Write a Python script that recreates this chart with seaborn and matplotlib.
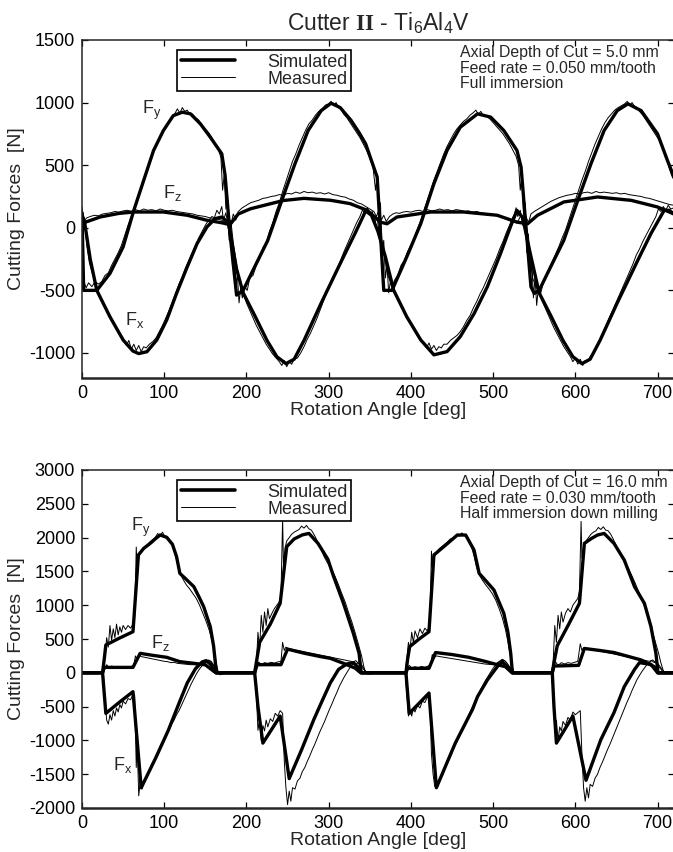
import numpy as np
import pandas as pd
import matplotlib
matplotlib.use('Agg')
import matplotlib.pyplot as plt
import seaborn as sns
from matplotlib.lines import Line2D

# ---------------- data (angle [deg], force [N]) ----------------
# top panel: full immersion, 5.0 mm depth
top_fy_sim = [(0, 120), (2, -500), (18, -500), (34, -365), (50, -153), (63, 139), (75, 378),
              (87, 617), (99, 777), (111, 896), (122, 923), (132, 910), (144, 830), (156, 724),
              (170, 591), (174, 420), (180, -46), (188, -538), (196, -500), (210, -312),
              (226, -100), (243, 219), (259, 511), (275, 777), (291, 936), (303, 995),
              (314, 960), (327, 860), (337, 760), (345, 670), (359, 405), (367, -500),
              (377, -500), (395, -232), (412, 33), (428, 352), (444, 618), (460, 803),
              (481, 910), (497, 884), (513, 777), (529, 618), (534, 485), (546, -471),
              (550, -524), (556, -500), (570, -312), (586, -100), (603, 219), (619, 511),
              (635, 777), (651, 936), (664, 990), (680, 936), (700, 750), (712, 538), (720, 405)]
top_fx_sim = [(0, 100), (3, 50), (10, -250), (18, -500), (34, -711), (50, -896), (62, -985),
              (69, -1005), (79, -990), (91, -896), (103, -737), (115, -524), (128, -312),
              (140, -126), (152, 7), (162, 73), (170, 86), (178, 40), (188, -330), (196, -520),
              (210, -700), (225, -900), (237, -1030), (248, -1085), (258, -1050), (270, -900),
              (291, -600), (316, -259), (332, -46), (345, 135), (352, 100), (360, -30),
              (369, -232), (379, -498), (395, -711), (412, -896), (428, -1015), (444, -989),
              (460, -870), (477, -684), (493, -471), (509, -206), (521, 7), (529, 139),
              (536, 80), (545, -200), (556, -520), (570, -700), (585, -900), (597, -1030),
              (608, -1085), (618, -1050), (630, -900), (651, -600), (676, -259), (692, -46),
              (708, 139), (714, 140), (720, 110)]
top_fz_sim = [(0, 35), (22, 86), (45, 115), (63, 126), (99, 126), (128, 100), (152, 60),
              (170, 40), (180, 25), (190, 110), (205, 152), (245, 218), (270, 235), (302, 220),
              (326, 193), (347, 139), (363, 45), (371, 32), (383, 86), (424, 126), (464, 126),
              (505, 100), (529, 45), (542, 32), (554, 100), (586, 206), (627, 246), (668, 219),
              (700, 166), (720, 110)]

top_fy_meas = [(0, 170), (2, -420), (5, -480), (8, -440), (12, -470), (16, -430), (20, -450),
               (24, -430), (28, -380), (32, -360), (36, -300), (40, -250), (44, -200),
               (48, -140), (52, -60), (56, 20), (60, 90), (64, 170), (68, 250), (72, 330),
               (76, 410), (80, 480), (84, 560), (88, 630), (92, 690), (96, 740), (100, 790),
               (104, 830), (108, 870), (112, 900), (116, 950), (119, 915), (122, 960),
               (125, 930), (128, 940), (131, 905), (134, 910), (138, 880), (142, 860),
               (146, 820), (150, 790), (154, 760), (158, 720), (162, 670), (166, 620),
               (169, 560), (171, 300), (173, 420), (175, 150), (177, 250), (179, -100),
               (181, 50), (183, -300), (185, -200), (187, -450), (189, -380), (191, -600),
               (193, -480), (195, -560), (198, -470), (201, -500), (204, -400), (208, -380),
               (212, -300), (216, -250), (220, -160), (224, -120), (228, -30), (232, 40),
               (236, 130), (240, 200), (244, 290), (248, 370), (252, 450), (256, 530),
               (260, 590), (264, 660), (268, 720), (272, 780), (276, 830), (280, 860),
               (284, 900), (288, 930), (292, 950), (296, 980), (300, 990), (303, 1010),
               (306, 975), (309, 1000), (312, 960), (315, 950), (318, 910), (322, 880),
               (326, 840), (330, 800), (334, 760), (338, 720), (342, 670), (346, 620),
               (350, 560), (354, 480), (357, 300), (359, 420), (361, 100), (363, 200),
               (365, -200), (367, -100), (369, -400), (371, -300), (373, -520), (375, -430),
               (377, -480), (380, -420), (384, -380), (388, -300), (392, -260), (396, -190),
               (400, -140), (404, -80), (408, -10), (412, 60), (416, 140), (420, 220),
               (424, 300), (428, 380), (432, 450), (436, 520), (440, 590), (444, 650),
               (448, 700), (452, 750), (456, 790), (460, 820), (464, 850), (468, 870),
               (472, 900), (476, 920), (479, 940), (482, 905), (485, 930), (488, 900),
               (492, 890), (496, 870), (500, 840), (504, 810), (508, 780), (512, 750),
               (516, 710), (520, 670), (524, 620), (528, 570), (531, 500), (533, 300),
               (535, 420), (537, 100), (539, 200), (541, -200), (543, -50), (545, -400),
               (547, -250), (549, -560), (551, -400), (553, -620), (555, -480), (558, -520),
               (561, -440), (564, -400), (568, -330), (572, -270), (576, -210), (580, -150),
               (584, -80), (588, -20), (592, 60), (596, 140), (600, 220), (604, 300),
               (608, 380), (612, 450), (616, 530), (620, 600), (624, 670), (628, 730),
               (632, 790), (636, 840), (640, 880), (644, 910), (648, 940), (652, 960),
               (656, 975), (660, 990), (663, 1010), (666, 980), (669, 1000), (672, 970),
               (675, 960), (678, 930), (682, 900), (686, 860), (690, 820), (694, 780),
               (698, 740), (702, 700), (706, 640), (710, 580), (714, 480), (717, 420),
               (720, 380)]
top_fx_meas = [(0, 140), (3, 60), (6, -150), (9, -280), (12, -350), (15, -420), (18, -470),
               (22, -560), (26, -600), (30, -660), (34, -700), (38, -760), (42, -800),
               (46, -850), (50, -880), (54, -940), (57, -900), (60, -970), (63, -930),
               (66, -980), (69, -940), (72, -990), (75, -950), (78, -960), (82, -930),
               (86, -910), (90, -880), (94, -830), (98, -780), (102, -720), (106, -660),
               (110, -590), (114, -520), (118, -450), (122, -390), (126, -320), (130, -260),
               (134, -200), (138, -140), (142, -80), (146, -30), (150, 20), (154, 60),
               (158, 90), (161, 80), (164, 140), (167, 110), (170, 170), (172, 60),
               (175, 120), (178, 0), (181, 60), (184, -120), (187, -250), (190, -380),
               (193, -450), (196, -520), (200, -600), (204, -660), (208, -720), (212, -780),
               (216, -830), (220, -880), (224, -930), (228, -970), (232, -1010), (236, -1040),
               (240, -1070), (243, -1100), (246, -1060), (249, -1110), (252, -1070),
               (255, -1090), (258, -1050), (262, -1040), (266, -1000), (270, -950),
               (274, -890), (278, -840), (282, -780), (286, -720), (290, -650), (294, -580),
               (298, -510), (302, -450), (306, -390), (310, -330), (314, -270), (318, -200),
               (322, -140), (326, -80), (330, -20), (334, 40), (338, 90), (341, 140),
               (344, 120), (347, 160), (350, 110), (353, 130), (356, 40), (359, 80),
               (362, -80), (365, -160), (368, -230), (372, -380), (376, -450), (380, -500),
               (384, -560), (388, -610), (392, -660), (396, -720), (400, -770), (404, -820),
               (408, -860), (412, -900), (416, -930), (419, -960), (422, -920), (425, -970),
               (428, -940), (431, -980), (434, -950), (437, -960), (440, -930), (444, -930),
               (448, -900), (452, -880), (456, -860), (460, -830), (464, -790), (468, -740),
               (472, -700), (476, -640), (480, -590), (484, -530), (488, -480), (492, -420),
               (496, -360), (500, -300), (504, -240), (508, -170), (512, -110), (516, -40),
               (520, 20), (523, 70), (526, 110), (528, 160), (530, 90), (533, 140),
               (536, 20), (539, 60), (542, -120), (545, -260), (548, -400), (551, -450),
               (554, -500), (558, -560), (562, -620), (566, -680), (570, -740), (574, -800),
               (578, -850), (582, -900), (586, -950), (590, -990), (594, -1030), (597, -1070),
               (600, -1040), (603, -1090), (606, -1050), (609, -1100), (612, -1060),
               (615, -1070), (618, -1030), (622, -1000), (626, -950), (630, -890),
               (634, -830), (638, -770), (642, -710), (646, -650), (650, -590), (654, -530),
               (658, -470), (662, -410), (666, -350), (670, -290), (674, -220), (678, -170),
               (682, -110), (686, -60), (690, -10), (694, 40), (698, 90), (701, 150),
               (704, 130), (707, 170), (710, 140), (713, 180), (716, 150), (720, 160)]
top_fz_meas = [(0, 150), (3, 60), (6, 80), (10, 90), (15, 100), (20, 95), (25, 110), (30, 115),
               (35, 120), (40, 130), (45, 125), (50, 135), (55, 140), (60, 130), (65, 145),
               (70, 135), (75, 150), (80, 140), (85, 145), (90, 135), (95, 150), (100, 140),
               (105, 135), (110, 140), (115, 130), (120, 125), (125, 120), (130, 115),
               (135, 110), (140, 100), (145, 95), (150, 90), (155, 80), (160, 75), (165, 70),
               (170, 60), (175, 40), (178, 90), (181, 20), (184, 110), (187, 60), (190, 130),
               (195, 160), (200, 180), (205, 200), (210, 210), (215, 220), (220, 235),
               (225, 240), (230, 250), (235, 255), (240, 265), (245, 260), (250, 275),
               (255, 270), (260, 285), (265, 275), (270, 290), (275, 280), (280, 285),
               (285, 275), (290, 280), (295, 270), (300, 280), (305, 265), (310, 260),
               (315, 250), (320, 245), (325, 230), (330, 220), (335, 200), (340, 190),
               (345, 170), (350, 150), (355, 130), (358, 90), (361, 140), (364, 60),
               (367, 100), (370, 50), (374, 90), (378, 110), (382, 120), (386, 115),
               (390, 125), (395, 130), (400, 125), (405, 135), (410, 140), (415, 130),
               (420, 145), (425, 135), (430, 140), (435, 150), (440, 140), (445, 145),
               (450, 135), (455, 145), (460, 140), (465, 130), (470, 135), (475, 125),
               (480, 130), (485, 120), (490, 115), (495, 110), (500, 105), (505, 95),
               (510, 90), (515, 80), (520, 70), (525, 60), (530, 50), (534, 100), (537, 30),
               (540, 90), (543, 40), (546, 110), (550, 130), (555, 150), (560, 170),
               (565, 190), (570, 210), (575, 225), (580, 240), (585, 250), (590, 260),
               (595, 265), (600, 275), (605, 270), (610, 280), (615, 285), (620, 275),
               (625, 290), (630, 280), (635, 285), (640, 280), (645, 275), (650, 280),
               (655, 270), (660, 275), (665, 265), (670, 260), (675, 255), (680, 250),
               (685, 240), (690, 235), (695, 225), (700, 215), (705, 205), (710, 195),
               (715, 185), (720, 180)]

# bottom panel: half immersion down milling, 16.0 mm depth
bot_fy_sim = [(0, 0), (25, 0), (27, 200), (29, 411), (45, 510), (62, 608), (68.6, 1743),
              (75, 1840), (83, 1915), (90, 1990), (95, 2038), (103, 2005), (110, 1900),
              (115, 1718), (119, 1471), (127, 1380), (136, 1274), (142, 1130), (148, 978),
              (156, 682), (160, 400), (163.5, 0), (210, 0), (212, 150), (216, 450),
              (229, 720), (241, 1028), (249, 1866), (258, 1980), (268, 2040), (276, 2062),
              (287, 1915), (299, 1680), (306, 1425), (318, 1028), (330, 584), (337, 288),
              (339.5, 0), (394, 0), (396, 200), (398.5, 386), (410, 500), (422, 608),
              (428, 1743), (440, 1866), (456.5, 2038), (466.6, 2038), (476.8, 1816),
              (483, 1471), (492, 1350), (501, 1225), (513, 880), (518, 600), (521.4, 288),
              (523.5, 0), (572, 0), (574, 150), (578, 400), (592, 720), (605, 1028),
              (611, 1915), (620, 1990), (627, 2038), (635, 2062), (647, 1915), (659.5, 1668),
              (672, 1274), (684, 1028), (692, 682), (698, 288), (700.5, 0), (720, 0)]
bot_fx_sim = [(0, 0), (25, 0), (29, -600), (45, -440), (62, -279), (72, -1700), (90, -1250),
              (105, -850), (118, -450), (128, -150), (138, 60), (146, 160), (151, 180),
              (156, 130), (163, 0), (210, 0), (214, -500), (220, -1040), (241, -640),
              (252, -1565), (267, -1140), (282, -690), (293, -390), (302, -150), (312, 50),
              (322, 130), (330, 150), (336, 80), (340, 0), (394, 0), (398, -600), (422, -300),
              (431, -1700), (454, -1040), (475, -540), (481, -353), (493, -106), (505, 90),
              (511, 165), (517, 90), (523.5, 0), (572, 0), (574, -500), (577, -1040),
              (597, -640), (613, -1590), (631, -990), (647, -590), (659.5, -205), (672, 49),
              (678, 150), (692, 125), (700, 0), (720, 0)]
bot_fz_sim = [(0, 0), (25, 0), (27, 80), (62, 80), (70.7, 288), (85, 260), (103, 229),
              (119, 165), (135.6, 141), (150, 118), (160, 25), (163, 0), (210, 0), (213, 120),
              (242, 120), (250, 350), (270, 290), (290, 240), (302, 214), (318, 140),
              (332, 70), (339, 0), (394, 0), (396, 66), (422, 66), (430, 300), (450, 270),
              (470, 230), (490, 170), (505, 120), (515, 90), (523, 0), (572, 0), (574, 100),
              (604, 110), (611, 360), (630, 330), (647, 300), (665, 240), (680, 190),
              (696, 90), (701, 0), (720, 0)]

bot_fy_meas = [(0, 0), (10, 10), (20, -10), (26, 0), (28, 250), (30, 520), (32, 380), (34, 700),
               (36, 480), (38, 650), (40, 520), (42, 720), (44, 560), (46, 680), (48, 600),
               (50, 700), (53, 640), (56, 700), (59, 660), (62, 720), (64, 800), (66, 1860),
               (67, 1500), (69, 1700), (71, 1780), (74, 1820), (77, 1870), (80, 1900),
               (83, 1940), (86, 1970), (89, 2000), (92, 2060), (95, 2030), (98, 2080),
               (101, 2000), (104, 1990), (107, 1950), (110, 1880), (113, 1780), (116, 1620),
               (119, 1480), (123, 1380), (127, 1300), (131, 1240), (135, 1170), (139, 1100),
               (143, 1000), (147, 880), (151, 760), (155, 620), (158, 480), (161, 300),
               (164, 100), (166, 0), (168, -30), (172, 10), (180, -10), (190, 0), (210, 0),
               (212, 100), (214, 600), (216, 350), (218, 850), (220, 600), (222, 900),
               (224, 700), (226, 950), (228, 800), (231, 880), (234, 950), (237, 1000),
               (240, 1050), (242, 1150), (244, 2290), (245, 1600), (247, 1850), (249, 1950),
               (252, 2000), (255, 2050), (258, 2080), (261, 2100), (264, 2120), (267, 2170),
               (270, 2140), (273, 2180), (276, 2130), (279, 2110), (282, 2050), (285, 1980),
               (288, 1900), (291, 1820), (294, 1730), (297, 1660), (300, 1600), (304, 1520),
               (308, 1420), (312, 1300), (316, 1170), (320, 1050), (324, 900), (328, 760),
               (332, 600), (336, 430), (340, 250), (343, 80), (345, 0), (348, -20), (352, 10),
               (360, 0), (393, 0), (395, 200), (397, 450), (399, 350), (401, 600), (403, 450),
               (405, 620), (408, 520), (411, 650), (414, 580), (417, 660), (420, 620),
               (423, 700), (425, 1800), (426, 1550), (428, 1700), (431, 1780), (434, 1830),
               (437, 1860), (440, 1890), (444, 1930), (448, 1980), (452, 2000), (456, 2050),
               (459, 2020), (462, 2070), (465, 2030), (468, 2000), (471, 1940), (474, 1850),
               (477, 1720), (480, 1560), (483, 1450), (487, 1370), (491, 1300), (495, 1240),
               (499, 1170), (503, 1080), (507, 960), (511, 820), (515, 640), (518, 460),
               (521, 250), (524, 60), (526, -20), (530, 10), (540, 0), (571, 0), (573, 150),
               (575, 700), (577, 450), (579, 850), (581, 650), (583, 900), (585, 750),
               (588, 880), (591, 950), (594, 900), (597, 1000), (600, 1050), (603, 1100),
               (605, 1200), (607, 2240), (608, 1700), (610, 1850), (613, 1950), (616, 2000),
               (619, 2050), (622, 2080), (625, 2100), (628, 2150), (631, 2120), (634, 2160),
               (637, 2110), (640, 2100), (643, 2050), (646, 1980), (649, 1900), (652, 1820),
               (655, 1740), (658, 1680), (661, 1620), (665, 1530), (669, 1430), (673, 1320),
               (677, 1200), (681, 1080), (685, 950), (689, 800), (693, 640), (697, 470),
               (701, 300), (704, 150), (707, 30), (709, -20), (713, 10), (720, 0)]
bot_fx_meas = [(0, 0), (10, -10), (20, 10), (26, 0), (28, -400), (30, -700), (32, -760),
               (34, -620), (36, -700), (38, -560), (40, -640), (42, -520), (44, -580),
               (46, -470), (48, -520), (50, -420), (53, -460), (56, -380), (59, -400),
               (62, -320), (64, -330), (66, -1400), (67, -1000), (69, -1820), (71, -1600),
               (73, -1720), (76, -1600), (79, -1540), (82, -1440), (85, -1350), (88, -1290),
               (91, -1200), (94, -1120), (97, -1040), (100, -990), (103, -900), (106, -840),
               (109, -760), (112, -700), (115, -620), (118, -560), (121, -480), (124, -400),
               (127, -320), (130, -240), (133, -160), (136, -90), (139, -20), (142, 40),
               (145, 90), (148, 130), (151, 160), (154, 190), (157, 170), (160, 120),
               (163, 60), (166, 0), (170, -20), (175, 10), (185, 0), (210, 0), (212, -300),
               (214, -850), (216, -700), (218, -1000), (220, -780), (222, -860), (224, -700),
               (226, -800), (229, -680), (232, -720), (235, -600), (238, -640), (241, -560),
               (244, -600), (246, -1300), (248, -1700), (250, -1950), (252, -1750),
               (254, -1900), (256, -1700), (259, -1720), (262, -1600), (265, -1560),
               (268, -1460), (271, -1400), (274, -1310), (277, -1230), (280, -1140),
               (283, -1060), (286, -970), (289, -880), (292, -800), (295, -720), (298, -630),
               (301, -540), (304, -460), (307, -370), (310, -290), (313, -200), (316, -130),
               (319, -60), (322, 0), (325, 60), (328, 110), (331, 150), (334, 130), (337, 170),
               (340, 120), (343, 60), (346, 0), (350, -20), (360, 10), (393, 0), (395, -300),
               (397, -640), (399, -560), (401, -640), (403, -520), (405, -580), (408, -480),
               (411, -520), (414, -420), (417, -440), (420, -360), (423, -380), (425, -1200),
               (427, -1500), (429, -1680), (431, -1600), (433, -1660), (436, -1560),
               (439, -1500), (442, -1400), (445, -1320), (448, -1240), (451, -1150),
               (454, -1070), (457, -990), (460, -900), (463, -820), (466, -740), (469, -660),
               (472, -580), (475, -500), (478, -420), (481, -340), (484, -270), (487, -200),
               (490, -130), (493, -70), (496, -10), (499, 50), (502, 100), (505, 140),
               (508, 170), (511, 200), (514, 180), (517, 140), (520, 90), (523, 40), (526, 0),
               (530, -20), (540, 0), (571, 0), (573, -300), (575, -850), (577, -700),
               (579, -1000), (581, -800), (583, -860), (585, -720), (588, -780), (591, -660),
               (594, -700), (597, -580), (600, -620), (606, -560), (608, -1200), (610, -1700),
               (612, -1900), (614, -1700), (616, -1850), (618, -1650), (621, -1680),
               (624, -1560), (627, -1500), (630, -1400), (633, -1320), (636, -1230),
               (639, -1140), (642, -1060), (645, -970), (648, -880), (651, -790), (654, -700),
               (657, -610), (660, -520), (663, -430), (666, -350), (669, -260), (672, -180),
               (675, -100), (678, -40), (681, 20), (684, 70), (687, 120), (690, 150),
               (693, 180), (696, 150), (699, 160), (702, 110), (705, 60), (708, 10),
               (712, -10), (720, 0)]
bot_fz_meas = [(0, 0), (10, 10), (20, -10), (26, 0), (28, 60), (30, 120), (33, 70), (36, 100),
               (40, 80), (44, 95), (48, 75), (52, 90), (56, 80), (60, 95), (63, 110),
               (65, 250), (67, 200), (69, 260), (72, 240), (76, 230), (80, 220), (84, 210),
               (88, 200), (92, 190), (96, 180), (100, 170), (104, 165), (108, 150),
               (112, 155), (116, 140), (120, 135), (124, 130), (128, 125), (132, 120),
               (136, 120), (140, 115), (144, 110), (148, 120), (151, 150), (154, 180),
               (157, 160), (160, 100), (163, 40), (166, 0), (170, -20), (180, 0), (210, 0),
               (212, 80), (215, 160), (218, 120), (222, 150), (226, 140), (230, 155),
               (234, 145), (238, 160), (242, 170), (244, 450), (246, 330), (248, 380),
               (251, 360), (255, 350), (259, 340), (263, 330), (267, 320), (271, 310),
               (275, 300), (279, 290), (283, 280), (287, 270), (291, 260), (295, 250),
               (299, 240), (303, 230), (307, 220), (311, 210), (315, 200), (319, 190),
               (323, 180), (327, 170), (330, 160), (333, 180), (336, 140), (339, 100),
               (342, 60), (345, 10), (350, -10), (360, 0), (393, 0), (395, 60), (398, 110),
               (401, 70), (405, 90), (409, 75), (413, 95), (417, 80), (421, 100), (424, 120),
               (426, 270), (428, 220), (431, 250), (435, 240), (440, 230), (445, 220),
               (450, 210), (455, 200), (460, 190), (465, 180), (470, 170), (475, 160),
               (480, 150), (485, 140), (490, 130), (495, 125), (500, 120), (504, 140),
               (508, 170), (512, 190), (515, 170), (518, 120), (521, 60), (524, 10),
               (528, -10), (540, 0), (571, 0), (573, 80), (576, 160), (579, 110), (583, 150),
               (587, 130), (591, 150), (595, 140), (599, 155), (603, 170), (606, 430),
               (608, 330), (610, 370), (614, 360), (618, 350), (622, 340), (626, 330),
               (630, 320), (634, 310), (638, 300), (642, 290), (646, 280), (650, 270),
               (654, 260), (658, 250), (662, 240), (666, 230), (670, 220), (674, 210),
               (678, 200), (682, 190), (686, 180), (690, 170), (694, 190), (697, 160),
               (700, 120), (703, 70), (706, 20), (709, -10), (720, 0)]

top_info = 'Axial Depth of Cut = 5.0 mm\nFeed rate = 0.050 mm/tooth\nFull immersion'
bot_info = 'Axial Depth of Cut = 16.0 mm\nFeed rate = 0.030 mm/tooth\nHalf immersion down milling'

# ---------------- style ----------------
sns.set_style('ticks')
plt.rcParams['font.family'] = ['Liberation Sans', 'DejaVu Sans']
plt.rcParams['mathtext.fontset'] = 'custom'
plt.rcParams['mathtext.rm'] = 'Liberation Sans'
plt.rcParams['mathtext.it'] = 'Liberation Sans'
plt.rcParams['mathtext.bf'] = 'Liberation Serif:bold'
plt.rcParams['axes.unicode_minus'] = False

fig = plt.figure(figsize=(6.73, 8.52), dpi=100)
ax1 = fig.add_axes([82 / 673, 1 - 378 / 852, 592 / 673, 338 / 852])
ax2 = fig.add_axes([82 / 673, 1 - 808 / 852, 592 / 673, 338 / 852])


def draw_series(ax, pts, lw):
    df = pd.DataFrame(pts, columns=['angle', 'force'])
    sns.lineplot(data=df, x='angle', y='force', ax=ax, color='black', lw=lw,
                 estimator=None, sort=False, legend=False)


def style_axes(ax, ylim, yticks, info):
    ax.set_xlim(0, 720)
    ax.set_ylim(*ylim)
    ax.set_xticks(range(0, 701, 100))
    ax.set_yticks(yticks)
    ax.tick_params(direction='in', top=True, right=True, length=4, width=0.9,
                   labelsize=13, pad=5, colors='black')
    for side in ['left', 'top', 'right']:
        ax.spines[side].set_linewidth(1.1)
    ax.spines['bottom'].set_linewidth(1.8)
    ax.set_xlabel('Rotation Angle [deg]', fontsize=14, labelpad=0)
    ax.set_ylabel('Cutting Forces  [N]', fontsize=14)
    ax.yaxis.set_label_coords(-0.097, 0.5)
    ax.text(0.6385, 0.985, info, transform=ax.transAxes, ha='left', va='top',
            fontsize=11.4, linespacing=1.05)
    handles = [Line2D([], [], color='black', lw=2.6), Line2D([], [], color='black', lw=0.7)]
    leg = ax.legend(handles, ['Simulated', 'Measured'], loc='upper left',
                    bbox_to_anchor=((177 - 82) / 592, 0.97), fontsize=13,
                    handlelength=3.0, handletextpad=1.8, borderpad=0.2,
                    labelspacing=0.0, fancybox=False, edgecolor='black',
                    framealpha=1, borderaxespad=0)
    leg.get_frame().set_linewidth(1.2)


for pts in [top_fx_meas, top_fy_meas, top_fz_meas]:
    draw_series(ax1, pts, 0.7)
for pts in [top_fx_sim, top_fy_sim, top_fz_sim]:
    draw_series(ax1, pts, 2.4)
for pts in [bot_fx_meas, bot_fy_meas, bot_fz_meas]:
    draw_series(ax2, pts, 0.7)
for pts in [bot_fx_sim, bot_fy_sim, bot_fz_sim]:
    draw_series(ax2, pts, 2.4)

style_axes(ax1, (-1200, 1500), range(-1000, 1501, 500), top_info)
style_axes(ax2, (-2000, 3000), range(-2000, 3001, 500), bot_info)

ax1.set_title(r'Cutter $\mathbf{II}$ - Ti$_6$Al$_4$V', fontsize=16.5, pad=7)

ax1.text(85, 940, r'F$_\mathrm{y}$', fontsize=13, ha='center', va='center')
ax1.text(110, 275, r'F$_\mathrm{z}$', fontsize=13, ha='center', va='center')
ax1.text(64, -737, r'F$_\mathrm{x}$', fontsize=13, ha='center', va='center')
ax2.text(71, 2157, r'F$_\mathrm{y}$', fontsize=13, ha='center', va='center')
ax2.text(95, 441, r'F$_\mathrm{z}$', fontsize=13, ha='center', va='center')
ax2.text(49, -1364, r'F$_\mathrm{x}$', fontsize=13, ha='center', va='center')

fig.savefig('out.png', dpi=100)
